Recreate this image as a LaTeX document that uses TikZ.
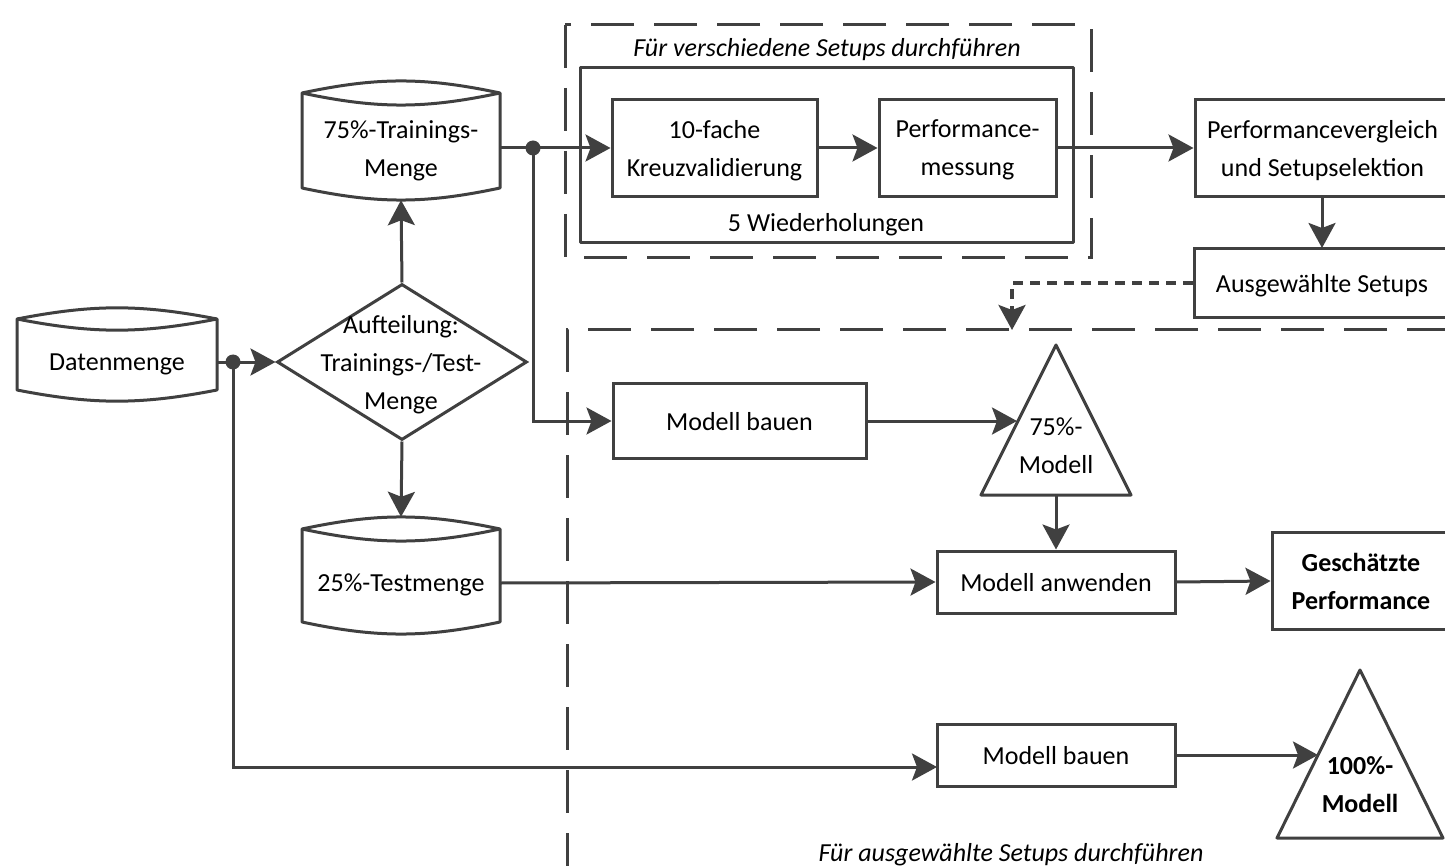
\documentclass[tikz,border=0pt]{standalone}
\usepackage{fontspec}
\setmainfont{Carlito}
\usetikzlibrary{arrows.meta,shapes.geometric,calc}
\definecolor{lc}{HTML}{404040}
\tikzset{
  base/.style={font=\fontsize{26}{38}\selectfont, text=black, align=center, inner sep=0pt, text depth=0pt},
  box/.style={base, draw=lc, line width=3pt, rectangle},
  txt/.style={base},
  conn/.style={draw=lc, line width=3pt},
  tip/.style={-{Stealth[length=25pt,width=27pt,inset=5pt]}},
  arr/.style={conn, tip},
  dashbox/.style={draw=lc, line width=3pt, dash pattern=on 43pt off 20pt},
  dotline/.style={draw=lc, line width=3.2pt, dash pattern=on 10pt off 7pt},
  outline/.style={draw=lc, line width=3pt, line join=round},
  jdot/.style={fill=lc},
}
\newcommand\cylout[5]{%
  \draw[outline] (#1,#3) to[bend left=#5] (#2,#3) -- (#2,#4) to[bend left=#5] (#1,#4) -- cycle;
  \draw[outline] (#1,#3) to[bend right=#5] (#2,#3);
}
\begin{document}
\begin{tikzpicture}[x=1pt,y=-1pt]
\useasboundingbox (0,0) rectangle (1445,866);
\clip (0,0) rectangle (1445,866);
\fill[white] (0,0) rectangle (1445,866);

% grouping frames
\draw[dashbox] (565,25) rectangle (1091,258);
\node[txt, font=\fontsize{26}{38}\selectfont\itshape] (lab1) at (827,47) {Für verschiedene Setups durchführen};
\draw[outline] (580,68) rectangle (1073,243);
\node[txt] (rep) at (826,222) {5 Wiederholungen};
\draw[dashbox] (1450,330) -- (567,330) -- (567,870);
\node[txt, font=\fontsize{26}{38}\selectfont\itshape] (lab2) at (1011,852) {Für ausgewählte Setups durchführen};

% cylinders
\cylout{17}{217}{319}{390}{11}
\node[txt, minimum width=200pt, minimum height=60pt] (dm) at (117,362) {Datenmenge};
\cylout{302}{500}{93}{188}{12}
\node[txt, minimum width=198pt, minimum height=102pt] (ts) at (401,149) {75\%-Trainings-\\Menge};
\cylout{302}{500}{529}{622}{12}
\node[txt, minimum width=198pt, minimum height=132pt] (tt) at (401,583) {25\%-Testmenge};

% diamond
\node[diamond, draw=lc, line width=3pt, minimum width=250pt, minimum height=156pt, inner sep=0pt, aspect=1.6] (dia) at (402,362) {};
\node[txt] (diatxt) at (401,362) {Aufteilung:\\Trainings-/Test-\\Menge};

% boxes
\node[box, minimum width=205pt, minimum height=97pt] (kf) at (714.5,148) {10-fache\\Kreuzvalidierung};
\node[box, minimum width=177pt, minimum height=97pt] (pm) at (967.5,148) {Performance-\\messung};
\node[box, minimum width=255pt, minimum height=97pt] (pv) at (1322.5,148) {Performancevergleich\\und Setupselektion};
\node[box, minimum width=256pt, minimum height=69pt] (as) at (1322,283) {Ausgewählte Setups};
\node[box, minimum width=253pt, minimum height=75pt] (mb1) at (739.5,421) {Modell bauen};
\node[box, minimum width=238pt, minimum height=62pt] (ma) at (1056,582) {Modell anwenden};
\node[box, minimum width=178pt, minimum height=97pt, font=\fontsize{26}{38}\selectfont\bfseries] (gp) at (1361,581) {Geschätzte\\Performance};
\node[box, minimum width=238pt, minimum height=62pt] (mb2) at (1056,755) {Modell bauen};

% triangles
\draw[outline] (1056,345) -- (1131,495) -- (981,495) -- cycle;
\node[txt] (t75) at (1056,446) {75\%-\\Modell};
\draw[outline] (1360,670) -- (1443,838) -- (1277,838) -- cycle;
\node[txt, font=\fontsize{26}{38}\selectfont\bfseries] (t100) at (1360,785) {100\%-\\Modell};

% coordinates
\coordinate (j1) at (233,362);
\coordinate (j2) at (533,148);
\coordinate (t75w) at (1017,421);
\coordinate (t75s) at (1056,495);
\coordinate (t100w) at (1318,755);
\coordinate (mb2in) at (937,767);
\coordinate (d2top) at (1012,330);
\coordinate (pvs) at (1322,196);
\coordinate (asn) at (1322,248);

% connectors
\draw[arr] (dm.east) -- (dia.west);
\draw[arr] (j1) |- (mb2in);
\draw[arr] (dia.north) -- (ts.south);
\draw[arr] (dia.south) -- (tt.north);
\draw[arr] (ts.east |- j2) -- (kf.west);
\draw[arr] (j2) |- (mb1.west);
\draw[arr] (kf.east) -- (pm.west);
\draw[arr] (pm.east) -- (pv.west);
\draw[arr] (pvs) -- (asn);
\draw[dotline, tip] (as.west) -| (d2top);
\draw[arr] (mb1.east) -- (t75w);
\draw[arr] (t75s) -- (ma.north);
\draw[arr] (tt.east) -- (ma.west);
\draw[arr] (ma.east) -- (gp.west);
\draw[arr] (mb2.east) -- (t100w);

\fill[jdot] (j1) circle (7.5);
\fill[jdot] (j2) circle (7.5);
\end{tikzpicture}
\end{document}
